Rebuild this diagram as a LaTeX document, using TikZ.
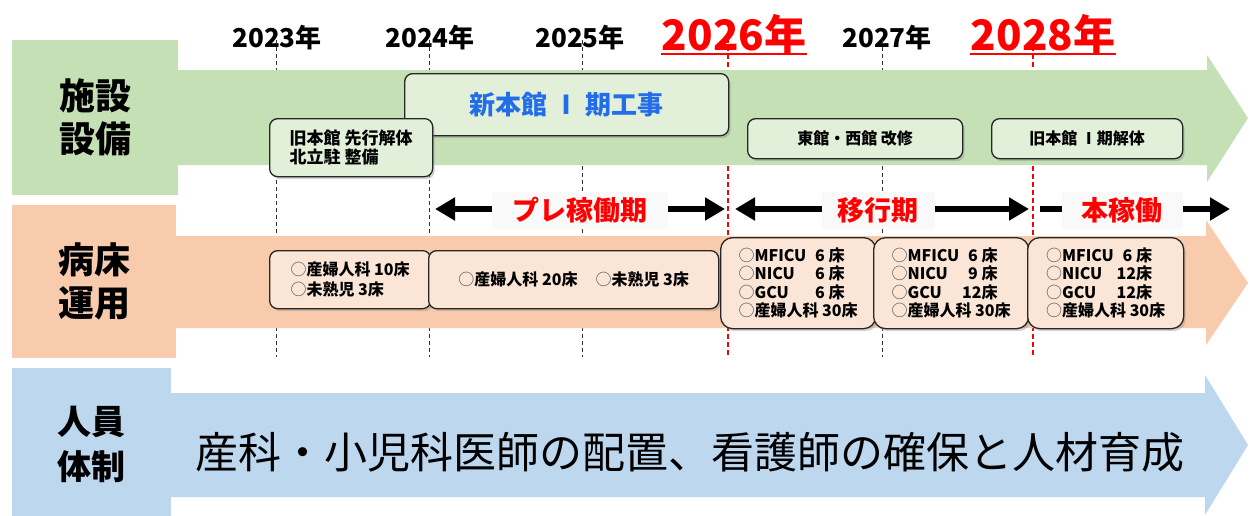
\documentclass[tikz,border=0pt]{standalone}
\usepackage{fontspec}
\setmainfont{Noto Sans CJK JP}
\usetikzlibrary{arrows.meta,shadows}
\definecolor{bandgreen}{HTML}{C5E0B4}
\definecolor{bandorange}{HTML}{F8CBAD}
\definecolor{bandblue}{HTML}{BDD7EE}
\definecolor{boxgreen}{HTML}{E2F0D9}
\definecolor{boxorange}{HTML}{FBE5D6}
\definecolor{titleblue}{RGB}{35,110,232}
\definecolor{pred}{HTML}{FF0000}
\newcommand\myfs[2]{\fontsize{#1}{#2}\selectfont}
\newcommand\circmark{{\mdseries\color{black!70}○}}
\newcommand\bedrow[2]{\makebox[72pt][l]{\circmark#1}\makebox[34pt][r]{#2}}
\begin{document}
\begin{tikzpicture}[x=1pt,y=-1pt,
  gbox/.style={draw=black!85, line width=1.3pt, fill=boxgreen, rounded corners=8pt,
    drop shadow={shadow xshift=2pt, shadow yshift=-2.5pt, opacity=0.35}, inner sep=0pt, anchor=north west},
  obox/.style={gbox, fill=boxorange},
  year/.style={font=\myfs{26}{30}\bfseries, anchor=base, inner sep=0pt},
  ryear/.style={font=\myfs{42}{48}\bfseries, text=pred, anchor=base, inner xsep=1pt, inner ysep=0pt},
  yline/.style={black!80, line width=1pt, dash pattern=on 4pt off 3pt},
  rline/.style={pred, line width=1.8pt, dash pattern=on 5pt off 3pt},
  parrow/.style={line width=6pt, -{Triangle[length=20pt,width=22pt]}},
  parrowtwo/.style={line width=6pt, {Triangle[length=20pt,width=22pt]}-{Triangle[length=20pt,width=22pt]}},
  plabel/.style={fill=gray!5, text=pred, font=\myfs{27}{30}\bfseries, minimum height=37pt, inner sep=0pt},
  sect/.style={font=\myfs{36}{43}\bfseries, align=center},
]
\useasboundingbox (0,0) rectangle (1250,515);
% year labels
\node[year] (y23) at (277,47) {2023年};
\node[year] (y24) at (430,47) {2024年};
\node[year] (y25) at (580,47) {2025年};
\node[year] (y27) at (887,47) {2027年};
\node[ryear] (y26) at (734,50) {2026年};
\node[ryear] (y28) at (1043,50) {2028年};
\draw[pred, line width=2pt] ([yshift=-3.5pt]y26.base west) -- ([yshift=-3.5pt]y26.base east);
\draw[pred, line width=2pt] ([yshift=-3.5pt]y28.base west) -- ([yshift=-3.5pt]y28.base east);
% grid lines
\foreach \x/\n in {276/a,429/b,582/c,882/d}{
  \coordinate (t\n) at (\x,40); \coordinate (u\n) at (\x,357);
  \draw[yline] (t\n) -- (u\n);
}
\foreach \x/\n in {728/e,1033/f}{
  \coordinate (t\n) at (\x,38); \coordinate (u\n) at (\x,357);
  \draw[rline] (t\n) -- (u\n);
}
% bands
\fill[bandgreen] (12,40) rectangle (178,195);
\fill[bandgreen] (170,70) -- (1207,70) -- (1207,55) -- (1248,118) -- (1207,182) -- (1207,165) -- (170,165) -- cycle;
\fill[bandorange] (12,205) rectangle (176,358);
\fill[bandorange] (170,236) -- (1206,236) -- (1206,220) -- (1248,283) -- (1206,345) -- (1206,328) -- (170,328) -- cycle;
\fill[bandblue] (12,368) rectangle (171,520);
\fill[bandblue] (165,393) -- (1205,393) -- (1205,375) -- (1248,445) -- (1205,515) -- (1205,497) -- (165,497) -- cycle;
% section labels
\node[sect] (s1) at (95,117) {施設\\設備};
\node[sect] (s2) at (94,281) {病床\\運用};
\node[font=\myfs{34}{45}\bfseries, align=center] (s3) at (91,444) {人員\\体制};
\node[font=\myfs{43}{50}] (staff) at (690,452) {産科・小児科医師の配置、看護師の確保と人材育成};
% period arrows
\coordinate (pa1) at (435,209); \coordinate (pa2) at (725,209);
\draw[parrowtwo] (pa1) -- (pa2);
\node[plabel, minimum width=176pt] (pl1) at (580,210) {プレ稼働期};
\coordinate (pb1) at (735,209); \coordinate (pb2) at (1029,209);
\draw[parrowtwo] (pb1) -- (pb2);
\node[plabel, minimum width=113pt] (pl2) at (878,210) {移行期};
\coordinate (pc1) at (1040,209); \coordinate (pc2) at (1230,209);
\draw[parrow] (pc1) -- (pc2);
\node[plabel, minimum width=121pt] (pl3) at (1122,210) {本稼働};
% green boxes
\node[gbox, minimum width=324pt, minimum height=62pt, font=\myfs{26}{30}\bfseries, text=titleblue] (b1) at (404,73) {新本館 Ⅰ 期工事};
\node[gbox, minimum width=163pt, minimum height=58pt, font=\myfs{17}{19}\bfseries, align=left] (b2) at (269,118) {旧本館 先行解体\\北立駐 整備};
\node[gbox, minimum width=215pt, minimum height=40pt, font=\myfs{16}{19}\bfseries] (b3) at (747,118) {東館・西館 改修};
\node[gbox, minimum width=191pt, minimum height=40pt, font=\myfs{16}{19}\bfseries] (b4) at (991,118) {旧本館 Ⅰ期解体};
% orange boxes
\node[obox, minimum width=161pt, minimum height=58pt, font=\myfs{16}{20}\bfseries, align=left] (o1) at (269,250) {\circmark 産婦人科 10床\\\circmark 未熟児 3床};
\node[obox, minimum width=290pt, minimum height=58pt, font=\myfs{16}{20}\bfseries] (o2) at (428,250) {\circmark 産婦人科 20床\hspace{18pt}\circmark 未熟児 3床};
\node[obox, rounded corners=12pt, minimum width=155pt, minimum height=91pt, font=\myfs{16}{18.5}\bfseries, align=left] (o3) at (720,237)
  {\bedrow{MFICU}{6 床}\\\bedrow{NICU}{6 床}\\\bedrow{GCU}{6 床}\\\circmark 産婦人科 30床};
\node[obox, rounded corners=12pt, minimum width=155pt, minimum height=91pt, font=\myfs{16}{18.5}\bfseries, align=left] (o4) at (873,237)
  {\bedrow{MFICU}{6 床}\\\bedrow{NICU}{9 床}\\\bedrow{GCU}{12床}\\\circmark 産婦人科 30床};
\node[obox, rounded corners=12pt, minimum width=156pt, minimum height=91pt, font=\myfs{16}{18.5}\bfseries, align=left] (o5) at (1027,237)
  {\bedrow{MFICU}{6 床}\\\bedrow{NICU}{12床}\\\bedrow{GCU}{12床}\\\circmark 産婦人科 30床};
\end{tikzpicture}
\end{document}
